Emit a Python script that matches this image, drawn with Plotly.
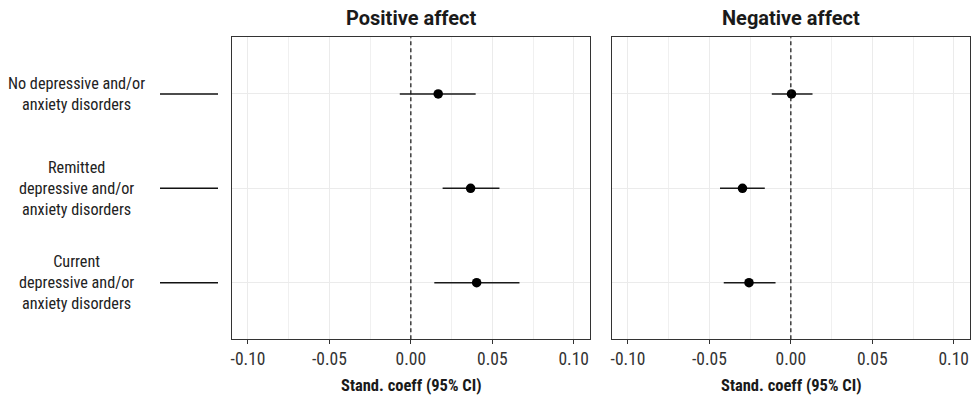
import plotly.graph_objects as go

# ---- data ----
categories = [
    "No depressive and/or<br>anxiety disorders",
    "Remitted<br>depressive and/or<br>anxiety disorders",
    "Current<br>depressive and/or<br>anxiety disorders",
]
panel_titles = ["Positive affect", "Negative affect"]

pos_coef = [0.0168, 0.0367, 0.0404]
pos_low = [-0.0068, 0.0195, 0.0144]
pos_high = [0.0398, 0.0544, 0.0667]

neg_coef = [0.0004, -0.0297, -0.0257]
neg_low = [-0.0117, -0.0435, -0.0412]
neg_high = [0.0133, -0.0160, -0.0094]

x_tickvals = [-0.10, -0.05, 0.00, 0.05, 0.10]
x_ticktext = ["-0.10", "-0.05", "0.00", "0.05", "0.10"]
x_title = "Stand. coeff (95% CI)"

# ---- layout constants ----
W, H = 975, 395
FONT = "Roboto Condensed, Liberation Sans Narrow, Roboto, sans-serif"
TFONT = "Roboto, sans-serif"

def px_x(p):
    return p / W

def px_y(p):
    return 1 - p / H

dom1 = [px_x(231.7), px_x(590)]
dom2 = [px_x(611.7), px_x(970)]
ydom = [px_y(339.3), px_y(37.3)]

rows = list(range(1, len(categories) + 1))

fig = go.Figure()

for i, (coef, lo, hi) in enumerate([(pos_coef, pos_low, pos_high), (neg_coef, neg_low, neg_high)]):
    xa = "x" if i == 0 else "x2"
    ya = "y" if i == 0 else "y2"
    fig.add_trace(go.Scatter(
        x=coef, y=rows, xaxis=xa, yaxis=ya, mode="markers",
        marker=dict(color="black", size=9.5, symbol="circle"),
        error_x=dict(type="data", symmetric=False,
                     array=[h - c for h, c in zip(hi, coef)],
                     arrayminus=[c - l for c, l in zip(coef, lo)],
                     color="#1a1a1a", thickness=1.5, width=0),
        showlegend=False, hoverinfo="skip",
    ))

xaxis_common = dict(
    range=[-0.11, 0.11], tickvals=x_tickvals, ticktext=x_ticktext,
    ticks="outside", ticklen=4, tickcolor="#333333", tickwidth=1,
    tickfont=dict(family=FONT, size=17.5, color="#333333"),
    showgrid=True, gridcolor="#ebebeb", gridwidth=1,
    minor=dict(dtick=0.025, tick0=0, showgrid=True, gridcolor="#f0f0f0", gridwidth=1, ticks=""),
    zeroline=False, showline=True, linecolor="#333333", linewidth=1, mirror=True,
    fixedrange=True,
)
yaxis_common = dict(
    range=[3.6, 0.4], tickvals=rows, showticklabels=False, ticks="",
    showgrid=True, gridcolor="#ebebeb", gridwidth=1,
    zeroline=False, showline=True, linecolor="#333333", linewidth=1, mirror=True,
    domain=ydom, fixedrange=True,
)

fig.update_layout(
    width=W, height=H,
    margin=dict(l=0, r=0, t=0, b=0),
    paper_bgcolor="white", plot_bgcolor="white",
    xaxis=dict(domain=dom1, anchor="y", **xaxis_common),
    xaxis2=dict(domain=dom2, anchor="y2", **xaxis_common),
    yaxis=dict(anchor="x", **yaxis_common),
    yaxis2=dict(anchor="x2", **yaxis_common),
)

shapes = []
for xr, yr in [("x", "y domain"), ("x2", "y2 domain")]:
    shapes.append(dict(type="line", xref=xr, yref=yr, x0=0, x1=0, y0=0, y1=1,
                       line=dict(color="#111111", width=1.2, dash="4px,3px")))
for r in rows:
    shapes.append(dict(type="line", xref="paper", yref="y", x0=px_x(160), x1=px_x(218),
                       y0=r, y1=r, line=dict(color="#111111", width=1.5)))
fig.update_layout(shapes=shapes)

annotations = []
for r, lab in zip(rows, categories):
    annotations.append(dict(text=lab, xref="paper", yref="y", x=px_x(76), y=r,
                            xanchor="center", yanchor="middle", align="center", showarrow=False,
                            font=dict(family=FONT, size=16.2, color="#222222")))
for t, dom in zip(panel_titles, [dom1, dom2]):
    cx = (dom[0] + dom[1]) / 2
    annotations.append(dict(text="<b>" + t + "</b>", xref="paper", yref="paper", x=cx, y=px_y(18),
                            xanchor="center", yanchor="middle", showarrow=False,
                            font=dict(family=TFONT, size=20, color="#1a1a1a")))
    annotations.append(dict(text="<b>" + x_title + "</b>", xref="paper", yref="paper", x=cx, y=px_y(385),
                            xanchor="center", yanchor="middle", showarrow=False,
                            font=dict(family=FONT, size=16.5, color="#1a1a1a")))
fig.update_layout(annotations=annotations)

fig.write_html("out.html")
